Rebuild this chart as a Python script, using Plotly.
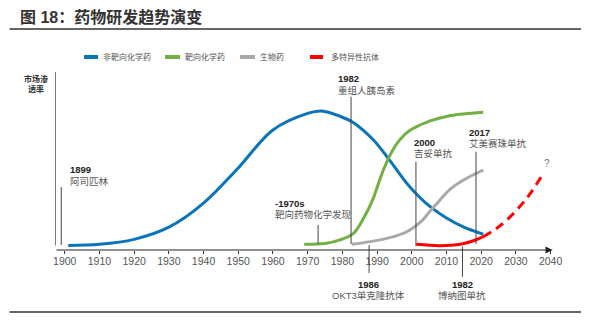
import plotly.graph_objects as go

W, H = 598, 323

# ---------------- data ----------------
series_names = ["非靶向化学药", "靶向化学药", "生物药", "多特异性抗体"]
series_colors = ["#0a74bb", "#72b043", "#a9a9a9", "#ff0000"]

blue_years = [1901, 1910, 1920, 1930, 1940, 1950, 1960, 1970, 1974, 1979.3, 1983.2,
              1988.9, 1993.7, 1998.6, 2002.4, 2005.3, 2010, 2015, 2020.6]
blue_vals = [2.4, 3.0, 5.6, 12.0, 24.7, 43.2, 63.2, 71.9, 73.2, 70.4, 67.0,
             58.0, 47.0, 35.0, 27.5, 22.8, 16.8, 12.0, 8.3]

green_years = [1969, 1975, 1979.3, 1983.2, 1986.1, 1988.9, 1990.9, 1992.3, 1993.7,
               1995.7, 1998.6, 2002.4, 2005.3, 2010, 2015, 2020.6]
green_vals = [3.0, 3.4, 5.3, 8.8, 16.7, 27.2, 37.7, 44.2, 49.8,
              56.0, 61.8, 65.8, 68.0, 70.3, 71.6, 72.5]

gray_years = [1982.7, 1988.0, 1993.7, 1998.6, 2002.4, 2005.3, 2008.2, 2011.1, 2014.9, 2020.6]
gray_vals = [3.0, 4.4, 6.5, 9.6, 14.5, 20.5, 26.5, 32.0, 36.8, 42.1]

red_years = [2001.3, 2008, 2014, 2018, 2020.6]
red_vals = [3.0, 2.3, 3.0, 5.0, 7.0]

red_future_years = [2020.6, 2024, 2027.4, 2033.1, 2038.1]
red_future_vals = [7.0, 10.8, 15.8, 27.2, 40.9]

tick_years = list(range(1900, 2041, 10))
tick_labels = [str(y) for y in tick_years]

# events: (line x-year, year text, description)
event_x = [1899, 1973, 1982.5, 1987.7, 2001.2, 2018.5, 2014.6]
event_year_text = ["1899", "-1970s", "1982", "1986", "2000", "2017", "1982"]
event_desc = ["阿司匹林", "靶向药物化学发现", "重组人胰岛素", "OKT3单克隆抗体",
              "吉妥单抗", "艾美赛珠单抗", "博纳图单抗"]

# ---------------- layout helpers (pixel -> paper) ----------------
def px(x):
    return x / W

def py(y):
    return 1 - y / H

FONT = "Liberation Sans, Noto Sans CJK SC, sans-serif"

fig = go.Figure()

fig.add_trace(go.Scatter(x=blue_years, y=blue_vals, mode="lines",
                         line=dict(color=series_colors[0], width=3, shape="spline", smoothing=1.0),
                         name=series_names[0], hoverinfo="skip"))
fig.add_trace(go.Scatter(x=green_years, y=green_vals, mode="lines",
                         line=dict(color=series_colors[1], width=3, shape="spline", smoothing=1.0),
                         name=series_names[1], hoverinfo="skip"))
fig.add_trace(go.Scatter(x=gray_years, y=gray_vals, mode="lines",
                         line=dict(color=series_colors[2], width=3, shape="spline", smoothing=1.0),
                         name=series_names[2], hoverinfo="skip"))
fig.add_trace(go.Scatter(x=red_years, y=red_vals, mode="lines",
                         line=dict(color=series_colors[3], width=3, shape="spline", smoothing=1.0),
                         name=series_names[3], hoverinfo="skip"))
fig.add_trace(go.Scatter(x=red_future_years, y=red_future_vals, mode="lines",
                         line=dict(color=series_colors[3], width=3, shape="spline", smoothing=1.0,
                                   dash="9px,6px"),
                         showlegend=False, hoverinfo="skip"))

shapes = []
annotations = []

# title and separators
annotations.append(dict(text="<b>图 18：药物研发趋势演变</b>", x=px(18), y=py(17), xref="paper", yref="paper",
                        xanchor="left", yanchor="middle", showarrow=False,
                        font=dict(family=FONT, size=16, color="#333333")))
shapes.append(dict(type="line", xref="paper", yref="paper", x0=px(9.5), x1=px(581), y0=py(29), y1=py(29),
                   line=dict(color="#666666", width=2)))
shapes.append(dict(type="line", xref="paper", yref="paper", x0=px(9.5), x1=px(581), y0=py(312), y1=py(312),
                   line=dict(color="#666666", width=2)))

# legend (manual)
leg_sw = [(84, 98), (165, 180), (240, 255), (310, 323)]
leg_tx = [101, 183, 258, 329]
for (a, b), t, name, col in zip(leg_sw, leg_tx, series_names, series_colors):
    shapes.append(dict(type="line", xref="paper", yref="paper", x0=px(a), x1=px(b), y0=py(57), y1=py(57),
                       line=dict(color=col, width=4)))
    annotations.append(dict(text=name, x=px(t), y=py(57), xref="paper", yref="paper",
                            xanchor="left", yanchor="middle", showarrow=False,
                            font=dict(family=FONT, size=8, color="#555555")))

# y label
annotations.append(dict(text="<b>市场渗</b><br><b>透率</b>", x=px(36), y=py(84), xref="paper", yref="paper",
                        xanchor="center", yanchor="middle", showarrow=False, align="center",
                        font=dict(family=FONT, size=8, color="#333333")))
# y axis vertical line
shapes.append(dict(type="line", xref="x", yref="paper", x0=1897.2, x1=1897.2, y0=py(72), y1=py(245.5),
                   line=dict(color="#222222", width=1.2)))

# x axis arrow line
annotations.append(dict(x=2040.6, y=0, ax=1897.2, ay=0, xref="x", yref="y", axref="x", ayref="y",
                        text="", showarrow=True, arrowhead=2, arrowsize=1.2, arrowwidth=1.2,
                        arrowcolor="#222222", standoff=0, startstandoff=0))

# events: (line top px, line bottom px, text x px, year y px, desc y px, anchor)
ev_geom = [
    (187, 245, 68, 169, 181, "left"),
    (225, 244, 273, 203, 214.5, "left"),
    (96.7, 244, 336, 79, 90.5, "left"),
    (245, 273, 368, 284, 295.5, "center"),
    (161.7, 246, 412, 142, 153.5, "left"),
    (151.7, 244, 466.7, 132, 143.5, "left"),
    (246.7, 276.7, 462, 284, 295.5, "center"),
]
for ex, yt, d, (lt, lb, tx, yy, dy, anc) in zip(event_x, event_year_text, event_desc, ev_geom):
    shapes.append(dict(type="line", xref="x", yref="paper", x0=ex, x1=ex, y0=py(lt), y1=py(lb),
                       line=dict(color="#444444", width=1)))
    annotations.append(dict(text="<b>" + yt + "</b>", x=px(tx), y=py(yy), xref="paper", yref="paper",
                            xanchor=anc, yanchor="middle", showarrow=False,
                            font=dict(family=FONT, size=9.5, color="#222222")))
    annotations.append(dict(text=d, x=px(tx), y=py(dy), xref="paper", yref="paper",
                            xanchor=anc, yanchor="middle", showarrow=False,
                            font=dict(family=FONT, size=9.5, color="#555555")))

# question mark at end of dashed line
annotations.append(dict(text="?", x=px(546.7), y=py(163), xref="paper", yref="paper",
                        xanchor="center", yanchor="middle", showarrow=False,
                        font=dict(family=FONT, size=10, color="#777777")))

fig.update_layout(
    width=W, height=H,
    margin=dict(l=0, r=0, t=0, b=0, pad=0, autoexpand=False),
    paper_bgcolor="white", plot_bgcolor="white",
    showlegend=False,
    shapes=shapes, annotations=annotations,
    xaxis=dict(domain=[55 / W, 552 / W], range=[1897.2, 2040.4], automargin=False,
               showgrid=False, zeroline=False, showline=False,
               tickmode="array", tickvals=tick_years, ticktext=tick_labels,
               ticks="outside", ticklen=3, tickwidth=1, tickcolor="#333333",
               ticklabelstandoff=-2,
               tickfont=dict(family=FONT, size=10.5, color="#555555")),
    yaxis=dict(domain=[1 - 250 / H, 1 - 60 / H], range=[0, 100], automargin=False,
               showgrid=False, zeroline=False, showline=False, showticklabels=False, ticks=""),
)

fig.write_html("out.html")
